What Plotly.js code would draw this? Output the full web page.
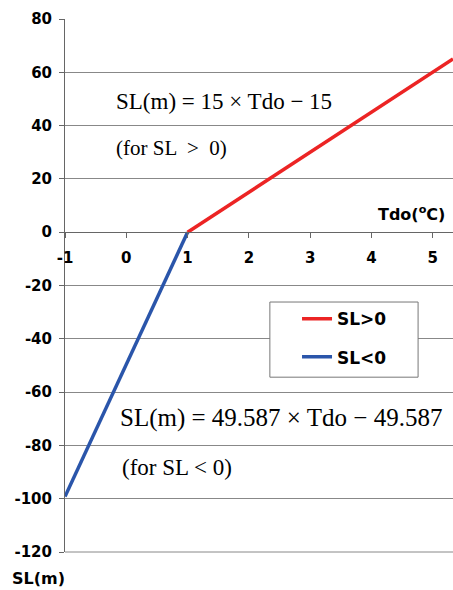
<!DOCTYPE html>
<html>
<head>
<meta charset="utf-8">
<script src="https://cdn.plot.ly/plotly-3.0.1.min.js"></script>
<style>html,body{margin:0;padding:0;background:#fff;}#chart{width:453px;height:590px;}</style>
</head>
<body>
<div id="chart"></div>
<script>
// Data
var tdoPos = [1, 5.33];
var slPos = [0, 65];
var tdoNeg = [-1, 1];
var slNeg = [-99.2, 0];
var yTicks = [-120, -100, -80, -60, -40, -20, 0, 20, 40, 60, 80];
var xTicks = [-1, 0, 1, 2, 3, 4, 5];
var seriesNames = ['SL>0', 'SL<0'];

var sans = 'DejaVu Sans, Verdana, sans-serif';
var serif = 'Liberation Serif, Times New Roman, serif';

var traces = [
  {x: tdoPos, y: slPos, mode: 'lines', name: seriesNames[0], legendgroup: 'a',
   line: {color: '#ec2424', width: 3.5}},
  {x: tdoNeg, y: slNeg, mode: 'lines', name: seriesNames[1], legendgroup: 'b',
   line: {color: '#2a55aa', width: 3.5}}
];

var layout = {
  width: 453, height: 590,
  margin: {l: 65, r: 0, t: 19, b: 38},
  paper_bgcolor: '#fff', plot_bgcolor: '#fff',
  showlegend: true,
  legend: {x: 0.598, y: 0.4705, xanchor: 'left', yanchor: 'top',
           bgcolor: 'rgba(0,0,0,0)', borderwidth: 0,
           traceorder: 'grouped', tracegroupgap: 13,
           font: {family: sans, size: 17, color: '#000', weight: 'bold'}},
  xaxis: {range: [-1, 5.33], tickvals: xTicks, ticktext: xTicks.map(String),
          anchor: 'free', position: 0.6, showgrid: false, zeroline: false,
          showline: true, linecolor: '#666', linewidth: 1,
          ticks: 'outside', ticklen: 5, tickcolor: '#666', ticklabelstandoff: 7,
          tickfont: {family: sans, size: 15, color: '#000', weight: 'bold'}},
  yaxis: {range: [-120, 80], tickvals: yTicks, ticktext: yTicks.map(String),
          showgrid: true, gridcolor: '#888', gridwidth: 1, zeroline: false,
          showline: true, linecolor: '#666', linewidth: 1,
          ticks: 'outside', ticklen: 5, tickcolor: '#666', ticklabelstandoff: 4,
          tickfont: {family: sans, size: 15, color: '#000', weight: 'bold'}},
  shapes: [
    {type: 'rect', xref: 'paper', yref: 'paper', x0: 0.528, x1: 0.910, y0: 0.328, y1: 0.469,
     line: {color: '#777', width: 1}, fillcolor: '#fff', layer: 'above'},
    {type: 'line', xref: 'paper', yref: 'paper', x0: 0, x1: 1, y0: 0, y1: 0,
     line: {color: '#888', width: 1}}
  ],
  annotations: [
    {x: -0.2, y: 49.2, xref: 'x', yref: 'y', xanchor: 'left', yanchor: 'middle', showarrow: false,
     text: 'SL(m) = 15 × Tdo − 15', font: {family: serif, size: 23, color: '#000'}},
    {x: -0.2, y: 31.5, xref: 'x', yref: 'y', xanchor: 'left', yanchor: 'middle', showarrow: false,
     text: '(for SL &nbsp;&gt;&nbsp; 0)', font: {family: serif, size: 21, color: '#000'}},
    {x: -0.134, y: -69.8, xref: 'x', yref: 'y', xanchor: 'left', yanchor: 'middle', showarrow: false,
     text: 'SL(m) = 49.587 × Tdo − 49.587', font: {family: serif, size: 25, color: '#000'}},
    {x: -0.10, y: -88.2, xref: 'x', yref: 'y', xanchor: 'left', yanchor: 'middle', showarrow: false,
     text: '(for SL &lt; 0)', font: {family: serif, size: 23, color: '#000'}},
    {x: 5.24, y: 7.1, xref: 'x', yref: 'y', xanchor: 'right', yanchor: 'middle', showarrow: false,
     text: '<b>Tdo(<sup>o</sup>C)</b>', font: {family: sans, size: 16, color: '#000'}},
    {x: -0.142, y: -0.049, xref: 'paper', yref: 'paper', xanchor: 'left', yanchor: 'middle', showarrow: false,
     text: '<b>SL(m)</b>', font: {family: sans, size: 16, color: '#000'}}
  ]
};

Plotly.newPlot('chart', traces, layout, {displayModeBar: false, staticPlot: true});
</script>
</body>
</html>
